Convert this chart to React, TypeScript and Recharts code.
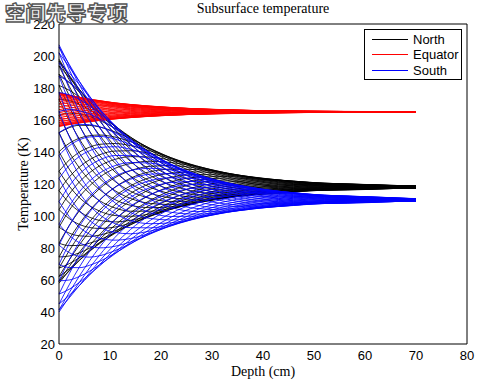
import { Line, LineChart, XAxis, YAxis } from 'recharts'

const depths = [0, 2, 4, 6, 8, 11, 14, 18, 22, 27, 33, 40, 52, 70]

const xTicks = [0, 10, 20, 30, 40, 50, 60, 70, 80]
const yTicks = [20, 40, 60, 80, 100, 120, 140, 160, 180, 200, 220]

// North (black), temperature in K at each depth, one row per local time
const northLines = [
  [198, 187.5, 177.4, 167.9, 159.3, 147.8, 138.3, 128.6, 122, 117.1, 114.5, 114.4, 116.2, 118.1],
  [196.9, 188, 179.1, 170.5, 162.3, 151.3, 141.8, 132, 124.7, 119, 115.7, 114.8, 116.1, 117.9],
  [193.8, 186.7, 179.1, 171.6, 164.3, 153.9, 144.8, 134.9, 127.4, 121.1, 117, 115.4, 116.1, 117.8],
  [188.6, 183.4, 177.5, 171.2, 165, 155.6, 147.1, 137.4, 129.8, 123.1, 118.3, 116.1, 116.1, 117.8],
  [181.6, 178.6, 174.4, 169.5, 164.4, 156.4, 148.6, 139.5, 131.9, 124.9, 119.6, 116.8, 116.3, 117.7],
  [173, 172.1, 169.8, 166.4, 162.6, 156.1, 149.4, 140.9, 133.7, 126.7, 120.9, 117.6, 116.5, 117.6],
  [163, 164.3, 163.8, 162.1, 159.7, 154.8, 149.2, 141.8, 135, 128.1, 122.3, 118.5, 116.7, 117.5],
  [152, 155.2, 156.7, 156.6, 155.6, 152.5, 148.3, 142.1, 136, 129.4, 123.5, 119.3, 117, 117.5],
  [140.2, 145.4, 148.6, 150.2, 150.6, 149.3, 146.5, 141.7, 136.4, 130.3, 124.5, 120.1, 117.3, 117.4],
  [128, 134.9, 139.9, 143, 144.8, 145.3, 144, 140.6, 136.4, 130.9, 125.4, 121, 117.6, 117.4],
  [115.8, 124.3, 130.6, 135.2, 138.3, 140.6, 140.8, 139, 135.8, 131.3, 126.1, 121.6, 118, 117.5],
  [104, 113.7, 121.3, 127.1, 131.4, 135.4, 137.1, 136.8, 134.8, 131.2, 126.6, 122.3, 118.4, 117.5],
  [93, 103.5, 112.1, 118.9, 124.3, 129.8, 132.8, 134.2, 133.4, 130.8, 126.8, 122.8, 118.7, 117.5],
  [83, 94, 103.3, 110.9, 117.2, 124, 128.3, 131.1, 131.5, 129.9, 126.8, 123.1, 119.1, 117.6],
  [74.4, 85.5, 95.1, 103.4, 110.2, 118.1, 123.6, 127.8, 129.3, 129, 126.6, 123.4, 119.4, 117.7],
  [67.4, 78.3, 88, 96.4, 103.7, 112.4, 118.8, 124.2, 126.8, 127.6, 126.2, 123.6, 119.7, 117.8],
  [62.2, 72.5, 82, 90.4, 97.8, 107, 114.1, 120.5, 124.2, 125.9, 125.5, 123.5, 120, 117.9],
  [59.1, 68.4, 77.3, 85.3, 92.7, 102.1, 109.6, 116.9, 121.4, 124.2, 124.7, 123.3, 120.2, 118],
  [58, 66.1, 74, 81.5, 88.5, 97.8, 105.5, 113.4, 118.6, 122.3, 123.7, 123, 120.4, 118.1],
  [59.1, 65.6, 72.3, 78.9, 85.5, 94.3, 102, 110, 115.9, 120.4, 122.5, 122.6, 120.5, 118.3],
  [62.2, 66.9, 72.3, 77.8, 83.5, 91.7, 99, 107.1, 113.2, 118.3, 121.2, 122, 120.5, 118.4],
  [67.4, 70.2, 73.9, 78.2, 82.8, 90, 96.7, 104.6, 110.8, 116.3, 119.9, 121.3, 120.5, 118.4],
  [74.4, 75, 77, 79.9, 83.4, 89.2, 95.2, 102.5, 108.7, 114.5, 118.6, 120.6, 120.3, 118.5],
  [83, 81.5, 81.6, 83, 85.2, 89.5, 94.4, 101.1, 106.9, 112.7, 117.3, 119.8, 120.1, 118.6],
  [93, 89.3, 87.6, 87.3, 88.1, 90.8, 94.6, 100.2, 105.6, 111.3, 115.9, 118.9, 119.9, 118.7],
  [104, 98.4, 94.7, 92.8, 92.2, 93.1, 95.5, 99.9, 104.6, 110, 114.7, 118.1, 119.6, 118.7],
  [115.8, 108.2, 102.8, 99.2, 97.2, 96.3, 97.3, 100.3, 104.2, 109.1, 113.7, 117.3, 119.3, 118.8],
  [128, 118.7, 111.5, 106.4, 103, 100.3, 99.8, 101.4, 104.2, 108.5, 112.8, 116.4, 119, 118.8],
  [140.2, 129.3, 120.8, 114.2, 109.5, 105, 103, 103, 104.8, 108.1, 112.1, 115.8, 118.6, 118.7],
  [152, 139.9, 130.1, 122.3, 116.4, 110.2, 106.7, 105.2, 105.8, 108.2, 111.6, 115.1, 118.2, 118.7],
  [163, 150.1, 139.3, 130.5, 123.5, 115.8, 111, 107.8, 107.2, 108.6, 111.4, 114.6, 117.9, 118.7],
  [173, 159.6, 148.1, 138.5, 130.6, 121.6, 115.5, 110.9, 109.1, 109.4, 111.4, 114.3, 117.5, 118.6],
  [181.6, 168.1, 156.3, 146, 137.6, 127.5, 120.2, 114.2, 111.3, 110.4, 111.6, 114, 117.2, 118.5],
  [188.6, 175.3, 163.4, 153, 144.1, 133.2, 125, 117.8, 113.8, 111.8, 112, 113.8, 116.9, 118.4],
  [193.8, 181.1, 169.4, 159, 150.3, 138.6, 129.7, 121.5, 116.4, 113.4, 112.7, 113.9, 116.6, 118.3],
  [196.9, 185.2, 174.1, 164.1, 155.1, 143.5, 134.2, 125.1, 119.2, 115.2, 113.5, 113.6, 116.6, 118.2],
]

// Equator (red)
const equatorLines = [
  [177, 175.4, 174, 172.5, 171.2, 169.4, 168.1, 166.6, 165.7, 164.9, 164.5, 164.5, 164.8, 165],
  [176.8, 175.5, 174.2, 172.9, 171.7, 170, 168.6, 167.1, 166.1, 165.2, 164.7, 164.5, 164.8, 165],
  [176.4, 175.3, 174.2, 173, 172, 170.4, 169, 167.6, 166.5, 165.5, 164.9, 164.6, 164.8, 165],
  [175.6, 174.8, 174, 173, 172.1, 170.6, 169.4, 168, 166.8, 165.8, 165.1, 164.7, 164.8, 165],
  [174.5, 174.1, 173.5, 172.7, 172, 170.7, 169.6, 168.3, 167.1, 166.1, 165.3, 164.8, 164.8, 165],
  [173.3, 173.1, 172.8, 172.3, 171.7, 170.7, 169.7, 168.5, 167.4, 166.3, 165.5, 164.9, 164.8, 164.9],
  [171.8, 171.9, 171.9, 171.6, 171.3, 170.5, 169.7, 168.6, 167.6, 166.6, 165.7, 165.1, 164.9, 164.9],
  [170.1, 170.6, 170.9, 170.8, 170.7, 170.1, 169.6, 168.7, 167.8, 166.8, 165.9, 165.2, 164.9, 164.9],
  [168.3, 169.1, 169.6, 169.8, 169.9, 169.7, 169.3, 168.6, 167.8, 166.9, 166, 165.3, 164.9, 164.9],
  [166.5, 167.5, 168.3, 168.7, 169, 169.1, 168.9, 168.4, 167.8, 167, 166.1, 165.4, 165, 164.9],
  [164.7, 165.9, 166.9, 167.6, 168.1, 168.4, 168.4, 168.2, 167.7, 167, 166.2, 165.5, 165.1, 164.9],
  [162.9, 164.3, 165.5, 166.4, 167, 167.6, 167.9, 167.9, 167.6, 167, 166.3, 165.6, 165.1, 164.9],
  [161.2, 162.8, 164.2, 165.1, 166, 166.7, 167.2, 167.5, 167.4, 167, 166.4, 165.7, 165.2, 164.9],
  [159.7, 161.4, 162.8, 163.9, 164.9, 165.9, 166.6, 167, 167.1, 166.8, 166.4, 165.8, 165.2, 164.9],
  [158.5, 160.1, 161.6, 162.8, 163.8, 165, 165.9, 166.5, 166.8, 166.7, 166.3, 165.8, 165.3, 164.9],
  [157.4, 159, 160.5, 161.8, 162.9, 164.1, 165.1, 166, 166.4, 166.5, 166.3, 165.8, 165.3, 165],
  [156.6, 158.2, 159.6, 160.8, 162, 163.3, 164.4, 165.4, 166, 166.3, 166.2, 165.8, 165.4, 165],
  [156.2, 157.5, 158.9, 160.1, 161.2, 162.6, 163.8, 164.9, 165.6, 166, 166, 165.8, 165.4, 165],
  [156, 157.2, 158.4, 159.5, 160.6, 162, 163.1, 164.4, 165.1, 165.7, 165.9, 165.7, 165.4, 165],
  [156.2, 157.1, 158.2, 159.1, 160.1, 161.4, 162.6, 163.9, 164.7, 165.4, 165.7, 165.7, 165.4, 165],
  [156.6, 157.3, 158.2, 159, 159.8, 161, 162.2, 163.4, 164.3, 165.1, 165.5, 165.6, 165.4, 165],
  [157.4, 157.8, 158.4, 159, 159.7, 160.8, 161.8, 163, 164, 164.8, 165.3, 165.5, 165.4, 165],
  [158.5, 158.5, 158.9, 159.3, 159.8, 160.7, 161.6, 162.7, 163.7, 164.5, 165.1, 165.4, 165.4, 165],
  [159.7, 159.5, 159.6, 159.7, 160.1, 160.7, 161.5, 162.5, 163.4, 164.3, 164.9, 165.3, 165.4, 165.1],
  [161.2, 160.7, 160.5, 160.4, 160.5, 160.9, 161.5, 162.4, 163.2, 164, 164.7, 165.1, 165.3, 165.1],
  [162.9, 162, 161.5, 161.2, 161.1, 161.3, 161.6, 162.3, 163, 163.8, 164.5, 165, 165.3, 165.1],
  [164.7, 163.5, 162.8, 162.2, 161.9, 161.7, 161.9, 162.4, 163, 163.7, 164.4, 164.9, 165.3, 165.1],
  [166.5, 165.1, 164.1, 163.3, 162.8, 162.3, 162.3, 162.6, 163, 163.6, 164.3, 164.8, 165.2, 165.1],
  [168.3, 166.7, 165.5, 164.4, 163.7, 163, 162.8, 162.8, 163.1, 163.6, 164.2, 164.7, 165.1, 165.1],
  [170.1, 168.3, 166.9, 165.6, 164.8, 163.8, 163.3, 163.1, 163.2, 163.6, 164.1, 164.6, 165.1, 165.1],
  [171.8, 169.8, 168.2, 166.9, 165.8, 164.7, 164, 163.5, 163.4, 163.6, 164, 164.5, 165, 165.1],
  [173.3, 171.2, 169.6, 168.1, 166.9, 165.5, 164.6, 164, 163.7, 163.8, 164, 164.4, 165, 165.1],
  [174.5, 172.5, 170.8, 169.2, 168, 166.4, 165.3, 164.5, 164, 163.9, 164.1, 164.4, 164.9, 165.1],
  [175.6, 173.6, 171.9, 170.2, 168.9, 167.3, 166.1, 165, 164.4, 164.1, 164.1, 164.4, 164.9, 165],
  [176.4, 174.4, 172.8, 171.2, 169.8, 168.1, 166.8, 165.5, 164.7, 164.3, 164.2, 164.4, 164.8, 165],
  [176.8, 175.1, 173.5, 171.9, 170.6, 168.8, 167.4, 166.1, 165.2, 164.6, 164.4, 164.4, 164.8, 165],
]

// South (blue)
const southLines = [
  [207, 194.2, 182, 170.5, 160.1, 146.3, 134.8, 123.2, 115.1, 109.1, 106.1, 105.7, 107.9, 110.1],
  [205.7, 194.8, 184, 173.6, 163.7, 150.5, 139.1, 127.2, 118.4, 111.4, 107.4, 106.3, 107.8, 109.9],
  [202, 193.2, 184.1, 174.9, 166, 153.7, 142.7, 130.7, 121.5, 113.9, 108.9, 107, 107.8, 109.8],
  [195.8, 189.4, 182.1, 174.5, 166.9, 155.7, 145.4, 133.7, 124.4, 116.2, 110.5, 107.8, 107.8, 109.7],
  [187.5, 183.6, 178.4, 172.5, 166.2, 156.6, 147.2, 136.2, 126.9, 118.4, 112.1, 108.7, 108, 109.6],
  [177.2, 175.8, 172.9, 168.8, 164.1, 156.2, 148.1, 137.9, 129.1, 120.5, 113.7, 109.6, 108.2, 109.5],
  [165.3, 166.5, 165.8, 163.7, 160.6, 154.6, 147.9, 138.9, 130.7, 122.3, 115.3, 110.6, 108.4, 109.4],
  [152.1, 155.7, 157.3, 157.1, 155.7, 151.9, 146.8, 139.3, 131.8, 123.8, 116.7, 111.6, 108.8, 109.4],
  [138, 143.9, 147.6, 149.4, 149.7, 148.1, 144.7, 138.8, 132.3, 124.9, 117.9, 112.6, 109.1, 109.3],
  [123.5, 131.5, 137.2, 140.8, 142.8, 143.3, 141.7, 137.5, 132.3, 125.6, 119, 113.6, 109.6, 109.3],
  [109, 118.8, 126.2, 131.5, 135.1, 137.8, 137.9, 135.6, 131.6, 126, 119.8, 114.4, 110, 109.3],
  [94.9, 106.2, 115.1, 121.9, 126.9, 131.5, 133.4, 133, 130.4, 125.9, 120.4, 115.2, 110.5, 109.4],
  [81.8, 94, 104.1, 112.1, 118.4, 124.8, 128.4, 129.8, 128.7, 125.4, 120.7, 115.8, 110.9, 109.4],
  [69.8, 82.7, 93.6, 102.5, 109.9, 117.9, 122.9, 126.2, 126.5, 124.5, 120.7, 116.2, 111.4, 109.5],
  [59.5, 72.5, 83.8, 93.5, 101.6, 110.9, 117.3, 122.2, 123.9, 123.2, 120.5, 116.6, 111.8, 109.6],
  [51.2, 63.9, 75.3, 85.2, 93.8, 104.1, 111.6, 117.9, 120.9, 121.6, 120, 116.7, 112.1, 109.7],
  [45, 57, 68.1, 78, 86.7, 97.7, 106, 113.5, 117.8, 119.7, 119.2, 116.7, 112.4, 109.9],
  [41.3, 52.1, 62.5, 72, 80.7, 91.8, 100.6, 109.2, 114.4, 117.6, 118.2, 116.4, 112.7, 110],
  [40, 49.4, 58.6, 67.5, 75.7, 86.7, 95.8, 105, 111.1, 115.3, 116.9, 116.1, 112.9, 110.1],
  [41.3, 48.8, 56.6, 64.4, 72.1, 82.5, 91.5, 101, 107.8, 113, 115.6, 115.5, 113, 110.3],
  [45, 50.4, 56.5, 63.1, 69.8, 79.3, 87.9, 97.5, 104.7, 110.5, 114.1, 114.8, 113, 110.4],
  [51.2, 54.2, 58.5, 63.5, 68.9, 77.3, 85.2, 94.5, 101.8, 108.2, 112.5, 114, 113, 110.5],
  [59.5, 60, 62.2, 65.5, 69.6, 76.4, 83.4, 92, 99.3, 106, 110.9, 113.1, 112.8, 110.6],
  [69.8, 67.8, 67.7, 69.2, 71.7, 76.8, 82.5, 90.3, 97.1, 103.9, 109.3, 112.2, 112.6, 110.7],
  [81.8, 77.1, 74.8, 74.3, 75.2, 78.4, 82.7, 89.3, 95.5, 102.1, 107.7, 111.2, 112.4, 110.8],
  [94.9, 87.9, 83.3, 80.9, 80.1, 81.1, 83.8, 88.9, 94.4, 100.6, 106.3, 110.2, 112, 110.8],
  [109, 99.7, 93, 88.6, 86.1, 84.9, 85.9, 89.4, 93.9, 99.5, 105.1, 109.2, 111.7, 110.9],
  [123.5, 112.1, 103.4, 97.2, 93, 89.7, 88.9, 90.7, 93.9, 98.8, 104, 108.2, 111.2, 110.9],
  [138, 124.8, 114.4, 106.5, 100.7, 95.2, 92.7, 92.6, 94.6, 98.4, 103.2, 107.4, 110.8, 110.9],
  [152.1, 137.4, 125.5, 116.1, 108.9, 101.5, 97.2, 95.2, 95.8, 98.5, 102.6, 106.6, 110.3, 110.8],
  [165.3, 149.6, 136.5, 125.9, 117.4, 108.2, 102.2, 98.4, 97.5, 99, 102.3, 106, 109.9, 110.8],
  [177.2, 160.9, 147, 135.5, 125.9, 115.1, 107.7, 102, 99.7, 99.9, 102.3, 105.6, 109.4, 110.7],
  [187.5, 171.1, 156.8, 144.5, 134.2, 122.1, 113.3, 106, 102.3, 101.2, 102.5, 105.2, 109, 110.6],
  [195.8, 179.7, 165.3, 152.8, 142, 128.9, 119, 110.3, 105.3, 102.8, 103, 105.1, 108.7, 110.5],
  [202, 186.6, 172.5, 160, 149.1, 135.3, 124.6, 114.7, 108.4, 104.7, 103.8, 105.1, 108.4, 110.3],
  [205.7, 191.5, 178.1, 166, 155.1, 141.2, 130, 119, 111.8, 106.8, 104.8, 105.4, 108.1, 110.2],
]

const groups = [
  { key: 'n', name: 'North', color: '#000000', lines: northLines },
  { key: 'e', name: 'Equator', color: '#ff0000', lines: equatorLines },
  { key: 's', name: 'South', color: '#0000ff', lines: southLines },
]

const data = depths.map((depth, i) => {
  const row: Record<string, number> = { depth }
  groups.forEach((g) => g.lines.forEach((l, k) => { row[`${g.key}${k}`] = l[i] }))
  return row
})

const sans = '"Liberation Sans", Arial, sans-serif'
const serif = '"Liberation Serif", "Times New Roman", serif'
const tickFont = { fill: '#000', fontSize: 13, fontFamily: sans }
const legendRowTop = [2, 17, 33]

export default function App() {
  return (
    <div style={{ position: 'absolute', left: 0, top: 0, width: 500, height: 386, background: '#fff' }}>
      <LineChart width={500} height={386} data={data} margin={{ top: 24, right: 33, bottom: 0, left: 0 }}>
        <XAxis xAxisId="x" dataKey="depth" type="number" domain={[0, 80]} ticks={xTicks} interval={0}
          height={42} tickLine={false} tickSize={0} tickMargin={7} axisLine={{ stroke: '#000' }} tick={tickFont} />
        {/* inward ticks on the box */}
        <XAxis xAxisId="xb" type="number" domain={[0, 80]} ticks={xTicks} interval={0} orientation="bottom" mirror
          tick={false} axisLine={false} tickSize={4} tickLine={{ stroke: '#000' }} />
        <XAxis xAxisId="xt" type="number" domain={[0, 80]} ticks={xTicks} interval={0} orientation="top" mirror
          tick={false} tickSize={4} axisLine={{ stroke: '#000' }} tickLine={{ stroke: '#000' }} />
        <YAxis yAxisId="y" type="number" domain={[20, 220]} ticks={yTicks} interval={0} width={59}
          tickLine={false} tickSize={0} tickMargin={4} axisLine={{ stroke: '#000' }} tick={tickFont} />
        <YAxis yAxisId="yl" type="number" domain={[20, 220]} ticks={yTicks} interval={0} orientation="left" mirror
          tick={false} axisLine={false} tickSize={4} tickLine={{ stroke: '#000' }} />
        <YAxis yAxisId="yr" type="number" domain={[20, 220]} ticks={yTicks} interval={0} orientation="right" mirror
          tick={false} tickSize={4} axisLine={{ stroke: '#000' }} tickLine={{ stroke: '#000' }} />
        {groups.map((g) =>
          g.lines.map((_, k) => (
            <Line key={`${g.key}${k}`} xAxisId="x" yAxisId="y" type="monotone" dataKey={`${g.key}${k}`}
              stroke={g.color} strokeWidth={0.85} dot={false} activeDot={false} isAnimationActive={false} />
          ))
        )}
      </LineChart>

      {/* title, axis labels */}
      <div style={{ position: 'absolute', left: 163, top: 0, width: 200, textAlign: 'center', fontFamily: serif, fontSize: 14, lineHeight: '18px' }}>
        Subsurface temperature
      </div>
      <div style={{ position: 'absolute', left: 163, top: 363, width: 200, textAlign: 'center', fontFamily: serif, fontSize: 14, lineHeight: '18px' }}>
        Depth (cm)
      </div>
      <div style={{ position: 'absolute', left: -76, top: 175, width: 200, height: 18, textAlign: 'center', fontFamily: serif, fontSize: 14, lineHeight: '18px', transform: 'rotate(-90deg)' }}>
        Temperature (K)
      </div>

      {/* legend */}
      <div style={{ position: 'absolute', left: 364, top: 29, width: 96, height: 49, border: '1px solid #000', background: '#fff' }}>
        {groups.map((g, i) => (
          <div key={g.key} style={{ position: 'absolute', left: 0, top: legendRowTop[i], width: 96, height: 15 }}>
            <div style={{ position: 'absolute', left: 7, top: 7, width: 36, height: 1, background: g.color }} />
            <div style={{ position: 'absolute', left: 48, top: 0, fontFamily: sans, fontSize: 13, lineHeight: '15px', color: '#000' }}>{g.name}</div>
          </div>
        ))}
      </div>

      {/* watermark */}
      <div style={{ position: 'absolute', left: 5, top: 1, fontFamily: '"Noto Sans CJK SC", sans-serif', fontWeight: 900, fontSize: 20, lineHeight: '24px', letterSpacing: 0.5, color: '#f2f2f2', WebkitTextStroke: '1.3px #555', whiteSpace: 'nowrap' }}>
        空间先导专项
      </div>
    </div>
  )
}
